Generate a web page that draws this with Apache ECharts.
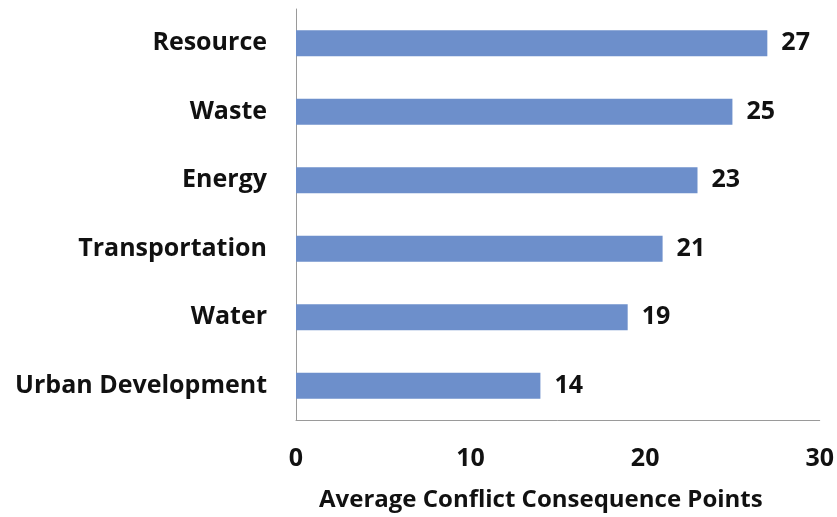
<!DOCTYPE html>
<html>
<head>
<meta charset="utf-8">
<script src="https://cdn.jsdelivr.net/npm/echarts@6/dist/echarts.min.js"></script>
<style>html,body{margin:0;padding:0;background:#fff}#c{width:837px;height:517px}</style>
</head>
<body>
<div id="c"></div>
<script>
const categories = ["Urban Development", "Water", "Transportation", "Energy", "Waste", "Resource"];
const values = [14, 19, 21, 23, 25, 27];
const xTicks = [0, 10, 20, 30];
const xTitle = "Average Conflict Consequence Points";

const font = "'Open Sans', 'DejaVu Sans', sans-serif";
const chart = echarts.init(document.getElementById('c'));
chart.setOption({
  animation: false,
  grid: { left: 296, right: 15, top: 9, bottom: 96, containLabel: false },
  xAxis: {
    type: 'value', min: xTicks[0], max: xTicks[xTicks.length - 1], interval: 10,
    axisLine: { show: true, lineStyle: { color: '#9a9a9a', width: 1 } },
    axisTick: { show: false },
    splitLine: { show: false },
    axisLabel: { color: '#111', fontSize: 25, fontWeight: 'bold', fontFamily: font, margin: 26 },
    name: xTitle, nameLocation: 'middle', nameGap: 68,
    nameTextStyle: { color: '#111', fontSize: 24, fontWeight: 'bold', fontFamily: font, padding: [0, 34, 0, 0] }
  },
  yAxis: {
    type: 'category', data: categories,
    axisLine: { show: true, lineStyle: { color: '#9a9a9a', width: 1 } },
    axisTick: { show: false },
    axisLabel: { color: '#111', fontSize: 25, fontWeight: 'bold', fontFamily: font, margin: 29 }
  },
  series: [{
    type: 'bar', data: values, barWidth: 26,
    itemStyle: { color: '#6d8fcb' },
    label: { show: true, position: 'right', distance: 14, color: '#111', fontSize: 25, fontWeight: 'bold', fontFamily: font }
  }]
});
</script>
</body>
</html>
